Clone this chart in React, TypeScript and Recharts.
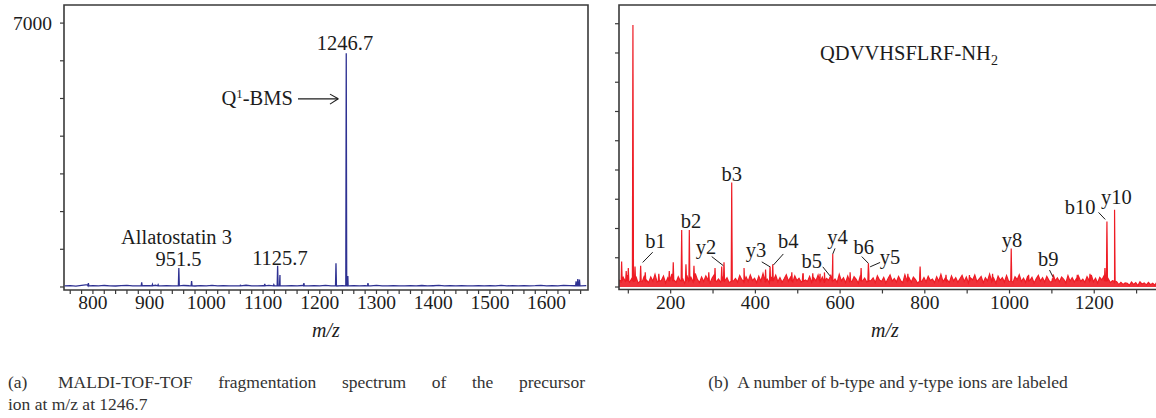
import React from 'react';
import { LineChart, ComposedChart, Line, Area, XAxis, YAxis, ReferenceArea, ReferenceLine, ReferenceDot } from 'recharts';

const SERIF = '"Liberation Serif", "Times New Roman", Times, serif';
const INK = '#1c1c1c';
const FRAME = '#3a3a3a';
const BLUE = '#2e3192';
const RED = '#ee1c25';

// ---------------- Panel (a) data ----------------
const aXTicks = [760, 780, 800, 820, 840, 860, 880, 900, 920, 940, 960, 980, 1000, 1020, 1040, 1060, 1080, 1100, 1120, 1140, 1160, 1180, 1200, 1220, 1240, 1260, 1280, 1300, 1320, 1340, 1360, 1380, 1400, 1420, 1440, 1460, 1480, 1500, 1520, 1540, 1560, 1580, 1600, 1620, 1640, 1660];
const aXLabels = [800, 900, 1000, 1100, 1200, 1300, 1400, 1500, 1600];
const aYTicks = [0, 1000, 2000, 3000, 4000, 5000, 6000, 7000];
const aYLabels = [7000];

const aNoiseStart = 750;
const aNoiseStep = 10;
const aNoise = [
  30, 38, 25, 45, 60, 35, 28, 40, 32, 26,
  35, 42, 30, 27, 38, 33, 45, 29, 36, 31,
  28, 40, 33, 26, 37, 30, 44, 29, 35, 27,
  32, 38, 46, 30, 27, 36, 41, 29, 34, 28,
  33, 27, 39, 31, 36, 29, 42, 30, 26, 35,
  30, 37, 28, 34, 29, 40, 31, 27, 36, 32,
  28, 35, 30, 39, 27, 33, 41, 29, 34, 30,
  36, 28, 32, 38, 29, 35, 27, 40, 31, 33,
  29, 37, 30, 34, 44, 31, 38, 28, 42, 35,
  33, 30, 36,
];
const aPeakMz = [792, 886, 905, 915, 951.5, 974, 1060, 1103, 1119, 1125.7, 1129.8, 1172, 1228.6, 1246.7, 1249.5, 1285, 1652, 1655, 1658];
const aPeakVal = [100, 125, 70, 60, 504, 160, 60, 80, 60, 560, 320, 100, 630, 6200, 290, 100, 150, 210, 200];

const aTextLabels = ['1246.7', 'Allatostatin 3', '951.5', '1125.7'];
const aTextMz = [1244.4, 947.3, 950.8, 1129.8];
const aTextVal = [6480, 1327, 743, 770];

// ---------------- Panel (b) data ----------------
const bXTicks = [100, 200, 300, 400, 500, 600, 700, 800, 900, 1000, 1100, 1200, 1300];
const bXLabels = [200, 400, 600, 800, 1000, 1200];
const bYTicks = [0, 1, 2, 3, 4, 5, 6, 7, 8, 9];

const bNoiseStart = 78;
const bNoiseStep = 5;
const bNoise = [
  0.24, 0.14, 0.33, 0.19, 0.41, 0.16, 0.29, 0.21, 0.36, 0.13,
  0.31, 0.18, 0.39, 0.23, 0.15, 0.34, 0.20, 0.43, 0.17, 0.28,
  0.22, 0.37, 0.14, 0.31, 0.19, 0.45, 0.24, 0.16, 0.35, 0.20,
  0.30, 0.13, 0.40, 0.21, 0.33, 0.17, 0.46, 0.26, 0.15, 0.34,
  0.19, 0.38, 0.24, 0.14, 0.31, 0.42, 0.18, 0.27, 0.16, 0.36,
  0.21, 0.32, 0.15, 0.44, 0.20, 0.29, 0.17, 0.39, 0.25, 0.13,
  0.35, 0.19, 0.41, 0.22, 0.30, 0.15, 0.37, 0.20, 0.46, 0.17,
  0.27, 0.14, 0.35, 0.23, 0.40, 0.18, 0.32, 0.16, 0.28, 0.42,
  0.20, 0.33, 0.15, 0.38, 0.22, 0.30, 0.17, 0.45, 0.24, 0.19,
  0.36, 0.16, 0.31, 0.21, 0.41, 0.18, 0.34, 0.14, 0.29, 0.23,
  0.39, 0.19, 0.27, 0.16, 0.43, 0.21, 0.32, 0.15, 0.37, 0.24,
  0.18, 0.35, 0.26, 0.13, 0.40, 0.20, 0.30, 0.17, 0.44, 0.22,
  0.31, 0.15, 0.38, 0.24, 0.19, 0.33, 0.14, 0.28, 0.41, 0.20,
  0.29, 0.17, 0.36, 0.22, 0.15, 0.42, 0.21, 0.31, 0.16, 0.34,
  0.25, 0.13, 0.39, 0.19, 0.32, 0.17, 0.37, 0.22, 0.27, 0.15,
  0.35, 0.20, 0.43, 0.18, 0.30, 0.24, 0.16, 0.38, 0.21, 0.32,
  0.16, 0.28, 0.40, 0.19, 0.34, 0.14, 0.31, 0.24, 0.41, 0.18,
  0.27, 0.36, 0.15, 0.32, 0.21, 0.44, 0.18, 0.29, 0.13, 0.37,
  0.23, 0.32, 0.17, 0.39, 0.19, 0.27, 0.15, 0.35, 0.25, 0.42,
  0.19, 0.30, 0.16, 0.38, 0.22, 0.33, 0.14, 0.28, 0.40, 0.20,
  0.32, 0.17, 0.36, 0.23, 0.15, 0.43, 0.21, 0.31, 0.18, 0.34,
  0.26, 0.14, 0.39, 0.20, 0.32, 0.17, 0.29, 0.37, 0.19, 0.27,
  0.16, 0.35, 0.22, 0.41, 0.18, 0.30, 0.14, 0.33, 0.24, 0.38,
  0.20, 0.28, 0.15, 0.22, 0.12, 0.18, 0.08, 0.16, 0.09, 0.14,
  0.13, 0.06, 0.17, 0.09, 0.15, 0.05, 0.18, 0.10, 0.14, 0.07,
  0.16, 0.08, 0.13, 0.06, 0.17, 0.10, 0.12, 0.05, 0.15, 0.09,
];
const bPeakMz = [84.2, 95, 100, 110.9, 115.8, 129.1, 140, 172, 196.7, 206.1, 226, 236.1, 244, 255, 290, 304.7, 320.5, 325.9, 344.1, 373.2, 424, 434.6, 441, 486, 512, 535.5, 552.7, 563, 582.7, 623.6, 649.6, 666.8, 760, 788.9, 850, 905.4, 960, 1004, 1045, 1101.5, 1160, 1190, 1225.3, 1230, 1248];
const bPeakVal = [0.87, 0.55, 0.65, 8.96, 0.7, 0.73, 0.5, 0.45, 0.55, 0.85, 1.95, 0.78, 1.95, 0.73, 0.5, 0.65, 0.7, 0.85, 3.57, 0.65, 0.6, 0.7, 0.78, 0.5, 0.45, 0.47, 0.45, 0.5, 1.13, 0.5, 0.65, 0.81, 0.45, 0.7, 0.42, 0.41, 0.45, 1.32, 0.42, 0.3, 0.42, 0.45, 0.65, 2.24, 2.64];

const bIonLabels = ['b1', 'b2', 'b3', 'y2', 'y3', 'b4', 'b5', 'y4', 'b6', 'y5', 'y8', 'b9', 'b10', 'y10'];
const bIonMz = [164.1, 248, 344.1, 283.4, 401.5, 477.8, 533.1, 594, 656, 718.1, 1005.6, 1091.3, 1166.9, 1252];
const bIonVal = [1.57, 2.26, 3.86, 1.37, 1.26, 1.57, 0.89, 1.71, 1.37, 1.03, 1.61, 0.96, 2.74, 3.08];
// leader lines: [fromMz, fromVal, toMz, toVal]
const bLeaders = [
  [157.5, 1.19, 133.9, 0.84],
  [296.9, 1.04, 324.3, 0.73],
  [415, 0.86, 434.6, 0.69],
  [466, 1.13, 442.4, 0.75],
  [559.1, 0.69, 576.3, 0.38],
  [588.1, 1.32, 582.7, 1.13],
  [651.2, 1.04, 666.8, 0.81],
  [694.5, 0.84, 670.9, 0.69],
  [1094.4, 0.58, 1102.4, 0.35],
  [1210.2, 2.55, 1226, 2.31],
];

// ---------------- table builder ----------------
function buildSpectrum(start: number, step: number, noise: number[], peakMz: number[], peakVal: number[], foot: number, footVal: number) {
  const pts: { mz: number; v: number }[] = noise.map((v, i) => ({ mz: start + i * step, v }));
  peakMz.forEach((m, i) => {
    pts.push({ mz: m - foot, v: footVal }, { mz: m, v: peakVal[i] }, { mz: m + foot, v: footVal });
  });
  pts.sort((p, q) => p.mz - q.mz);
  return pts;
}

const aData = buildSpectrum(aNoiseStart, aNoiseStep, aNoise, aPeakMz, aPeakVal, 0.8, 32);
const bData = buildSpectrum(bNoiseStart, bNoiseStep, bNoise, bPeakMz, bPeakVal, 1.3, 0.2);

const TICK_FONT = 19.5;
const NOTE_FONT = 20.5;

const AXTick = (props: any) => {
  const { x, y, payload } = props;
  const v = payload.value;
  return (
    <g>
      <line x1={x} y1={y} x2={x} y2={y + 4} stroke={FRAME} strokeWidth={1.2} />
      {aXLabels.includes(v) && (
        <text x={x} y={y + 19} textAnchor="middle" fontSize={TICK_FONT} fontFamily={SERIF} fill={INK}>{v}</text>
      )}
    </g>
  );
};
const AYTick = (props: any) => {
  const { x, y, payload } = props;
  const v = payload.value;
  return (
    <g>
      <line x1={x} y1={y} x2={x - 4} y2={y} stroke={FRAME} strokeWidth={1.2} />
      {aYLabels.includes(v) && (
        <text x={x - 12} y={y + 6.5} textAnchor="end" fontSize={TICK_FONT} fontFamily={SERIF} fill={INK}>{v}</text>
      )}
    </g>
  );
};
const BXTick = (props: any) => {
  const { x, y, payload } = props;
  const v = payload.value;
  return (
    <g>
      <line x1={x} y1={y} x2={x} y2={y + 4} stroke={FRAME} strokeWidth={1.2} />
      {bXLabels.includes(v) && (
        <text x={x} y={y + 19} textAnchor="middle" fontSize={TICK_FONT} fontFamily={SERIF} fill={INK}>{v}</text>
      )}
    </g>
  );
};
const BYTick = (props: any) => {
  const { x, y } = props;
  return <line x1={x} y1={y} x2={x - 4} y2={y} stroke={FRAME} strokeWidth={1.2} />;
};

const textShape = (label: string, size = NOTE_FONT) => (p: any) => (
  <text x={p.cx} y={p.cy} dy="0.35em" textAnchor="middle" fontSize={size} fontFamily={SERIF} fill={INK}>{label}</text>
);

const qbmsShape = (p: any) => (
  <text x={p.cx} y={p.cy} dy="0.35em" textAnchor="end" fontSize={NOTE_FONT} fontFamily={SERIF} fill={INK}>
    Q<tspan dy={-7} fontSize={13}>1</tspan><tspan dy={7}>-BMS</tspan>
  </text>
);
const peptideShape = (p: any) => (
  <text x={p.cx} y={p.cy} dy="0.35em" textAnchor="start" fontSize={NOTE_FONT} fontFamily={SERIF} fill={INK}>
    QDVVHSFLRF-NH<tspan dy={5} fontSize={14}>2</tspan>
  </text>
);

export default function App() {
  return (
    <div style={{ position: 'absolute', left: 0, top: 0, width: 1156, height: 418, overflow: 'hidden', background: '#fff', fontFamily: SERIF }}>
      {/* Panel (a) */}
      <div style={{ position: 'absolute', left: 0, top: 0 }}>
        <LineChart width={600} height={340} data={aData} margin={{ top: 5, right: 12, left: 0, bottom: 0 }}>
          <XAxis dataKey="mz" type="number" domain={[749, 1673]} allowDataOverflow ticks={aXTicks} interval={0}
            tickSize={0} tickMargin={0} axisLine={false} tick={<AXTick />} height={50} />
          <YAxis type="number" domain={[-80, 7480]} allowDataOverflow ticks={aYTicks} interval={0}
            tickSize={0} tickMargin={0} axisLine={false} tick={<AYTick />} width={64} />
          <Line dataKey="v" type="linear" stroke={BLUE} strokeWidth={1.3} dot={false} isAnimationActive={false} />
          <ReferenceArea x1={749} x2={1673} y1={-80} y2={7480} fill="none" stroke={FRAME} strokeWidth={1.6} ifOverflow="visible" />
          {aTextLabels.map((t, i) => (
            <ReferenceDot key={t} x={aTextMz[i]} y={aTextVal[i]} r={0} shape={textShape(t)} />
          ))}
          <ReferenceDot x={1152.7} y={5017} r={0} shape={qbmsShape} />
          <ReferenceLine segment={[{ x: 1161.6, y: 4991 }, { x: 1232.6, y: 4991 }]} stroke={INK} strokeWidth={1.1} />
          <ReferenceLine segment={[{ x: 1218, y: 5116 }, { x: 1232.6, y: 4991 }]} stroke={INK} strokeWidth={1.1} />
          <ReferenceLine segment={[{ x: 1218, y: 4850 }, { x: 1232.6, y: 4991 }]} stroke={INK} strokeWidth={1.1} />
        </LineChart>
      </div>

      {/* Panel (b) */}
      <div style={{ position: 'absolute', left: 560, top: 0 }}>
        <ComposedChart width={610} height={340} data={bData} margin={{ top: 5, right: 8, left: 0, bottom: 0 }}>
          <XAxis dataKey="mz" type="number" domain={[78, 1360]} allowDataOverflow ticks={bXTicks} interval={0}
            tickSize={0} tickMargin={0} axisLine={false} tick={<BXTick />} height={50.5} />
          <YAxis type="number" domain={[-0.085, 9.64]} allowDataOverflow ticks={bYTicks} interval={0}
            tickSize={0} tickMargin={0} axisLine={false} tick={<BYTick />} width={59} />
          <Area dataKey="v" type="linear" baseValue={0} stroke={RED} strokeWidth={1.2} fill={RED} fillOpacity={0.9}
            dot={false} activeDot={false} isAnimationActive={false} />
          <ReferenceArea x1={78} x2={1360} y1={-0.085} y2={9.64} fill="none" stroke={FRAME} strokeWidth={1.6} ifOverflow="visible" />
          <ReferenceDot x={552.7} y={8.0} r={0} shape={peptideShape} />
          {bIonLabels.map((t, i) => (
            <ReferenceDot key={t} x={bIonMz[i]} y={bIonVal[i]} r={0} shape={textShape(t)} />
          ))}
          {bLeaders.map((s, i) => (
            <ReferenceLine key={i} segment={[{ x: s[0], y: s[1] }, { x: s[2], y: s[3] }]} stroke={INK} strokeWidth={1} />
          ))}
        </ComposedChart>
      </div>

      {/* axis titles */}
      <div style={{ position: 'absolute', left: 276, top: 319, width: 100, textAlign: 'center', fontSize: 20, fontStyle: 'italic', lineHeight: '22px', color: INK }}>m/z</div>
      <div style={{ position: 'absolute', left: 835, top: 319, width: 100, textAlign: 'center', fontSize: 20, fontStyle: 'italic', lineHeight: '22px', color: INK }}>m/z</div>

      {/* captions */}
      <div style={{ position: 'absolute', left: 8, top: 371, width: 577, fontSize: 17.5, lineHeight: '22px', color: '#333' }}>
        <div style={{ display: 'flex' }}>
          <span style={{ width: 50, flex: 'none' }}>(a)</span>
          <span style={{ flex: 1, textAlign: 'justify', textAlignLast: 'justify' as any }}>MALDI-TOF-TOF fragmentation spectrum of the precursor</span>
        </div>
        <div>ion at m/z at 1246.7</div>
      </div>
      <div style={{ position: 'absolute', left: 588, top: 371, width: 600, textAlign: 'center', fontSize: 17.5, lineHeight: '22px', color: '#333' }}>
        (b)&nbsp;&nbsp;A number of b-type and y-type ions are labeled
      </div>
    </div>
  );
}
